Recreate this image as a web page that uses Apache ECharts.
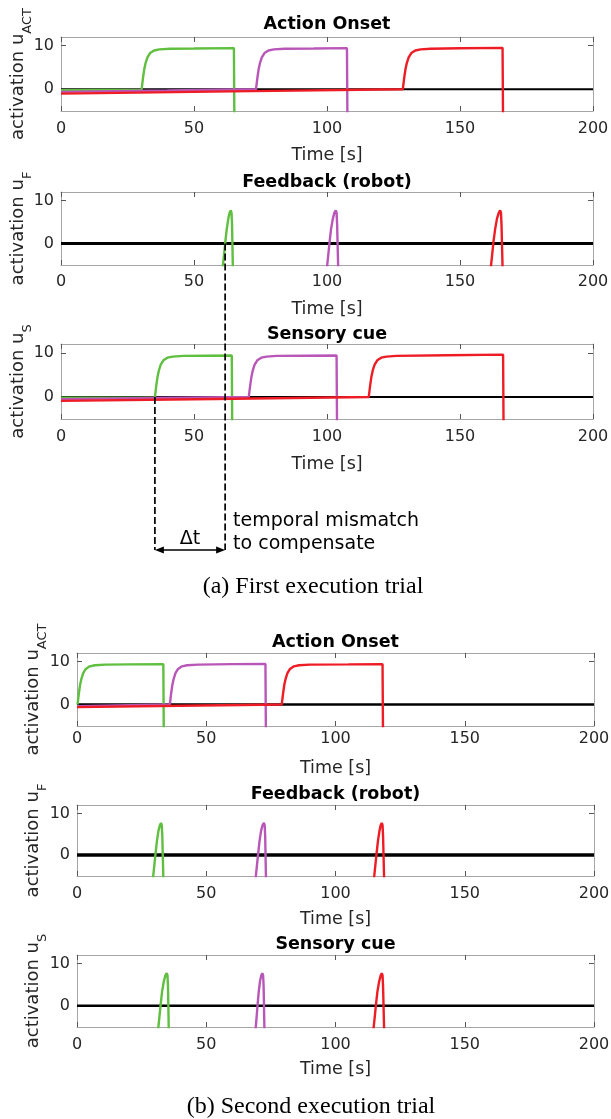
<!DOCTYPE html>
<html>
<head>
<meta charset="utf-8">
<script src="https://cdn.jsdelivr.net/npm/echarts@6/dist/echarts.min.js"></script>
<style>
  html, body { margin: 0; padding: 0; background: #fff; }
  #chart { width: 611px; height: 1119px; }
</style>
</head>
<body>
<div id="chart"></div>
<script>
// tick values
const xTicks = [0, 50, 100, 150, 200]
const yTicks = [0, 10]

// (a) first execution trial - action onset
const t1ActGreen = [[0,-0.2],[30.3,-0.1],[30.8,2.5],[31.3,4.6],[31.8,6.0],[32.5,7.3],[33.5,8.3],[35,8.9],[37,9.15],[41,9.3],[50,9.35],[65,9.45],[65.2,-9]]
const t1ActMagenta = [[0,-0.6],[40,-0.3],[73.3,0],[73.8,2.5],[74.3,4.6],[74.8,6.0],[75.5,7.3],[76.5,8.3],[78,8.9],[80,9.15],[84,9.3],[95,9.35],[107.5,9.45],[107.7,-9]]
const t1ActRed = [[0,-1.0],[64,-0.5],[128.5,0],[129,2.5],[129.5,4.6],[130,6.0],[130.7,7.3],[131.7,8.3],[133.2,8.9],[135.2,9.15],[139,9.3],[150,9.4],[166,9.5],[166.2,-9]]
// (a) feedback (robot)
const t1FbGreen = [[60.8,-5.5],[61.3,-2.5],[61.8,0.5],[62.3,3.3],[62.9,5.8],[63.4,7.2],[63.8,7.7],[64.1,7.2],[64.3,4.5],[64.6,-5.5]]
const t1FbMagenta = [[100,-5.5],[100.5,-2.5],[101,0.5],[101.5,3.3],[102.2,5.8],[102.8,7.2],[103.3,7.7],[103.6,7.2],[103.8,4.5],[104.2,-5.5]]
const t1FbRed = [[161.6,-5.5],[162.1,-2.5],[162.6,0.5],[163.2,3.3],[163.9,5.8],[164.6,7.2],[165.1,7.7],[165.4,7.2],[165.6,4.5],[166,-5.5]]
// (a) sensory cue
const t1SenGreen = [[0,-0.2],[35.3,-0.1],[35.8,2.5],[36.3,4.6],[36.8,6.0],[37.5,7.3],[38.5,8.3],[40,8.9],[42,9.15],[46,9.3],[55,9.35],[64.2,9.4],[64.4,-9]]
const t1SenMagenta = [[0,-0.5],[35,-0.25],[70.6,0],[71.1,2.5],[71.6,4.6],[72.1,6.0],[72.8,7.3],[73.8,8.3],[75.3,8.9],[77.3,9.15],[81,9.3],[92,9.35],[103.6,9.4],[103.8,-9]]
const t1SenRed = [[0,-0.9],[58,-0.45],[115.7,0],[116.2,2.5],[116.7,4.6],[117.2,6.0],[117.9,7.3],[118.9,8.3],[120.4,8.9],[122.4,9.15],[126,9.3],[145,9.45],[166.2,9.6],[166.4,-9]]

// (b) second execution trial - action onset
const t2ActGreen = [[0.2,0],[0.7,2.5],[1.2,4.6],[1.7,6.0],[2.4,7.3],[3.4,8.3],[4.9,8.9],[6.9,9.15],[11,9.3],[20,9.35],[33.4,9.4],[33.6,-9]]
const t2ActMagenta = [[0,-0.4],[35.9,0],[36.4,2.5],[36.9,4.6],[37.4,6.0],[38.1,7.3],[39.1,8.3],[40.6,8.9],[42.6,9.15],[47,9.3],[60,9.4],[72.9,9.45],[73.1,-9]]
const t2ActRed = [[0,-0.6],[40,-0.3],[79.2,0],[79.7,2.5],[80.2,4.6],[80.7,6.0],[81.4,7.3],[82.4,8.3],[83.9,8.9],[85.9,9.15],[90,9.3],[105,9.35],[118.2,9.4],[118.4,-9]]
// (b) feedback (robot)
const t2FbGreen = [[29.4,-5.5],[29.9,-2.5],[30.4,0.5],[30.9,3.3],[31.5,5.8],[32.1,7.2],[32.5,7.7],[32.8,7.2],[33.0,4.5],[33.4,-5.5]]
const t2FbMagenta = [[69.1,-5.5],[69.6,-2.5],[70.1,0.5],[70.6,3.3],[71.2,5.8],[71.8,7.2],[72.3,7.7],[72.6,7.2],[72.8,4.5],[73.1,-5.5]]
const t2FbRed = [[114.9,-5.5],[115.4,-2.5],[115.9,0.5],[116.4,3.3],[117.0,5.8],[117.5,7.2],[117.9,7.7],[118.2,7.2],[118.4,4.5],[118.8,-5.5]]
// (b) sensory cue
const t2SenGreen = [[31.4,-5.5],[31.9,-2.5],[32.4,0.5],[32.9,3.3],[33.6,5.8],[34.2,7.2],[34.7,7.7],[35.0,7.2],[35.2,4.5],[35.5,-5.5]]
const t2SenMagenta = [[69.1,-5.5],[69.5,-2.5],[69.9,0.5],[70.3,3.3],[70.8,5.8],[71.3,7.2],[71.7,7.7],[72.0,7.2],[72.2,4.5],[72.5,-5.5]]
const t2SenRed = [[114.7,-5.5],[115.2,-2.5],[115.7,0.5],[116.2,3.3],[116.9,5.8],[117.5,7.2],[117.9,7.7],[118.2,7.2],[118.4,4.5],[118.8,-5.5]]

const zeroLine = [[0,0],[200,0]]

// annotation: temporal mismatch between sensory cue onset and robot feedback
const mismatchTimes = [35.3, 61.7]

const FONT = 'DejaVu Sans'
const COLORS = ['#5fbf3f', '#b957b9', '#ee1c24']

const panels = [
  { box: { left: 61, top: 37, width: 532, height: 74 }, title: 'Action Onset', sub: 'ACT', lines: [t1ActGreen, t1ActMagenta, t1ActRed], base: 2, margin: 10, gap: 35, tgap: 4, ygap: 30 },
  { box: { left: 61, top: 192, width: 532, height: 73 }, title: 'Feedback (robot)', sub: 'F', lines: [t1FbGreen, t1FbMagenta, t1FbRed], base: 3, margin: 9, gap: 35, tgap: 1, ygap: 30 },
  { box: { left: 61, top: 344, width: 532, height: 75 }, title: 'Sensory cue', sub: 'S', lines: [t1SenGreen, t1SenMagenta, t1SenRed], base: 2, margin: 10, gap: 36, tgap: 1, ygap: 30 },
  { box: { left: 77, top: 653, width: 517, height: 73 }, title: 'Action Onset', sub: 'ACT', lines: [t2ActGreen, t2ActMagenta, t2ActRed], base: 2.5, margin: 5, gap: 33, tgap: 2, ygap: 31 },
  { box: { left: 77, top: 805, width: 517, height: 71 }, title: 'Feedback (robot)', sub: 'F', lines: [t2FbGreen, t2FbMagenta, t2FbRed], base: 3.5, margin: 10, gap: 34, tgap: 2, ygap: 31 },
  { box: { left: 77, top: 955, width: 517, height: 72 }, title: 'Sensory cue', sub: 'S', lines: [t2SenGreen, t2SenMagenta, t2SenRed], base: 2.5, margin: 10, gap: 33, tgap: 2, ygap: 31 }
]

const axisLine = { show: true, onZero: false, lineStyle: { color: '#a6a6a6', width: 1 } }
const labelStyle = { color: '#262626', fontSize: 16, fontFamily: FONT }
const tick = vals => ({ inside: true, length: 5, customValues: vals, lineStyle: { color: '#555' } })

const grid = [], xAxis = [], yAxis = [], series = []
panels.forEach((p, g) => {
  grid.push(Object.assign({ containLabel: false, outerBoundsMode: 'none' }, p.box))
  xAxis.push({
    type: 'value', gridIndex: g, position: 'bottom', min: 0, max: 200,
    axisLine, splitLine: { show: false }, axisTick: tick(xTicks),
    axisLabel: Object.assign({ margin: p.margin, customValues: xTicks }, labelStyle),
    name: 'Time [s]', nameLocation: 'middle', nameGap: p.gap, nameMoveOverlap: false,
    nameTextStyle: { color: '#262626', fontSize: 17.5, fontFamily: FONT }
  })
  xAxis.push({
    type: 'value', gridIndex: g, position: 'top', min: 0, max: 200,
    axisLine, splitLine: { show: false }, axisTick: tick(xTicks),
    axisLabel: { show: false },
    name: p.title, nameLocation: 'middle', nameGap: p.tgap, nameMoveOverlap: false,
    nameTextStyle: { color: '#000', fontSize: 17.5, fontWeight: 'bold', fontFamily: FONT }
  })
  yAxis.push({
    type: 'value', gridIndex: g, position: 'left', min: -5, max: 12,
    axisLine, splitLine: { show: false }, axisTick: tick(yTicks),
    axisLabel: Object.assign({ margin: 7, customValues: yTicks }, labelStyle),
    name: '{m|activation u}{s|' + p.sub + '}', nameLocation: 'middle', nameGap: p.ygap, nameRotate: 90,
    nameMoveOverlap: false,
    nameTextStyle: {
      color: '#262626', fontFamily: FONT,
      rich: {
        m: { fontSize: 18, lineHeight: 22, verticalAlign: 'top', fontFamily: FONT, color: '#262626' },
        s: { fontSize: 13, lineHeight: 13, padding: [12, 0, 0, 0], verticalAlign: 'top', fontFamily: FONT, color: '#262626' }
      }
    }
  })
  yAxis.push({
    type: 'value', gridIndex: g, position: 'right', min: -5, max: 12,
    axisLine, splitLine: { show: false }, axisTick: tick(yTicks),
    axisLabel: { show: false }
  })
  series.push({
    type: 'line', xAxisIndex: 2 * g, yAxisIndex: 2 * g, data: zeroLine,
    symbol: 'none', lineStyle: { color: '#000', width: p.base }, z: 2
  })
  p.lines.forEach((d, i) => {
    series.push({
      type: 'line', xAxisIndex: 2 * g, yAxisIndex: 2 * g, data: d,
      symbol: 'none', clip: true, lineStyle: { color: COLORS[i], width: 2.4 }, z: 3
    })
  })
})

const chart = echarts.init(document.getElementById('chart'), null, { renderer: 'canvas' })
chart.setOption({
  animation: false,
  backgroundColor: '#fff',
  grid, xAxis, yAxis, series
})

// annotation drawn through the axes' own scales
const arrowY = 550
const pR = chart.convertToPixel({ xAxisIndex: 2, yAxisIndex: 2 }, [mismatchTimes[1], 0])
const pL = chart.convertToPixel({ xAxisIndex: 4, yAxisIndex: 4 }, [mismatchTimes[0], 0])
const dash = { stroke: '#000', lineWidth: 1.7, lineDash: [7, 3] }

chart.setOption({
  graphic: [
    { type: 'line', shape: { x1: pR[0], y1: pR[1], x2: pR[0], y2: arrowY }, style: dash, z: 10 },
    { type: 'line', shape: { x1: pL[0], y1: pL[1], x2: pL[0], y2: arrowY }, style: dash, z: 10 },
    { type: 'line', shape: { x1: pL[0] + 4, y1: arrowY, x2: pR[0] - 4, y2: arrowY }, style: { stroke: '#000', lineWidth: 1.4 }, z: 10 },
    { type: 'polygon', shape: { points: [[pL[0], arrowY], [pL[0] + 9, arrowY - 3.5], [pL[0] + 9, arrowY + 3.5]] }, style: { fill: '#000' }, z: 10 },
    { type: 'polygon', shape: { points: [[pR[0], arrowY], [pR[0] - 9, arrowY - 3.5], [pR[0] - 9, arrowY + 3.5]] }, style: { fill: '#000' }, z: 10 },
    { type: 'text', style: { text: 'Δt', x: (pL[0] + pR[0]) / 2, y: 539, textAlign: 'center', textVerticalAlign: 'middle', font: '19px "DejaVu Sans"', fill: '#000' }, z: 10 },
    { type: 'text', style: { text: 'temporal mismatch', x: pR[0] + 8, y: 521, textAlign: 'left', textVerticalAlign: 'middle', font: '19px "DejaVu Sans"', fill: '#000' }, z: 10 },
    { type: 'text', style: { text: 'to compensate', x: pR[0] + 8, y: 544, textAlign: 'left', textVerticalAlign: 'middle', font: '19px "DejaVu Sans"', fill: '#000' }, z: 10 },
    { type: 'text', style: { text: '(a) First execution trial', x: 313, y: 587, textAlign: 'center', textVerticalAlign: 'middle', font: '24px "Liberation Serif"', fill: '#000' }, z: 10 },
    { type: 'text', style: { text: '(b) Second execution trial', x: 311, y: 1107, textAlign: 'center', textVerticalAlign: 'middle', font: '24px "Liberation Serif"', fill: '#000' }, z: 10 }
  ]
})

window.addEventListener('resize', () => chart.resize())
</script>
</body>
</html>
